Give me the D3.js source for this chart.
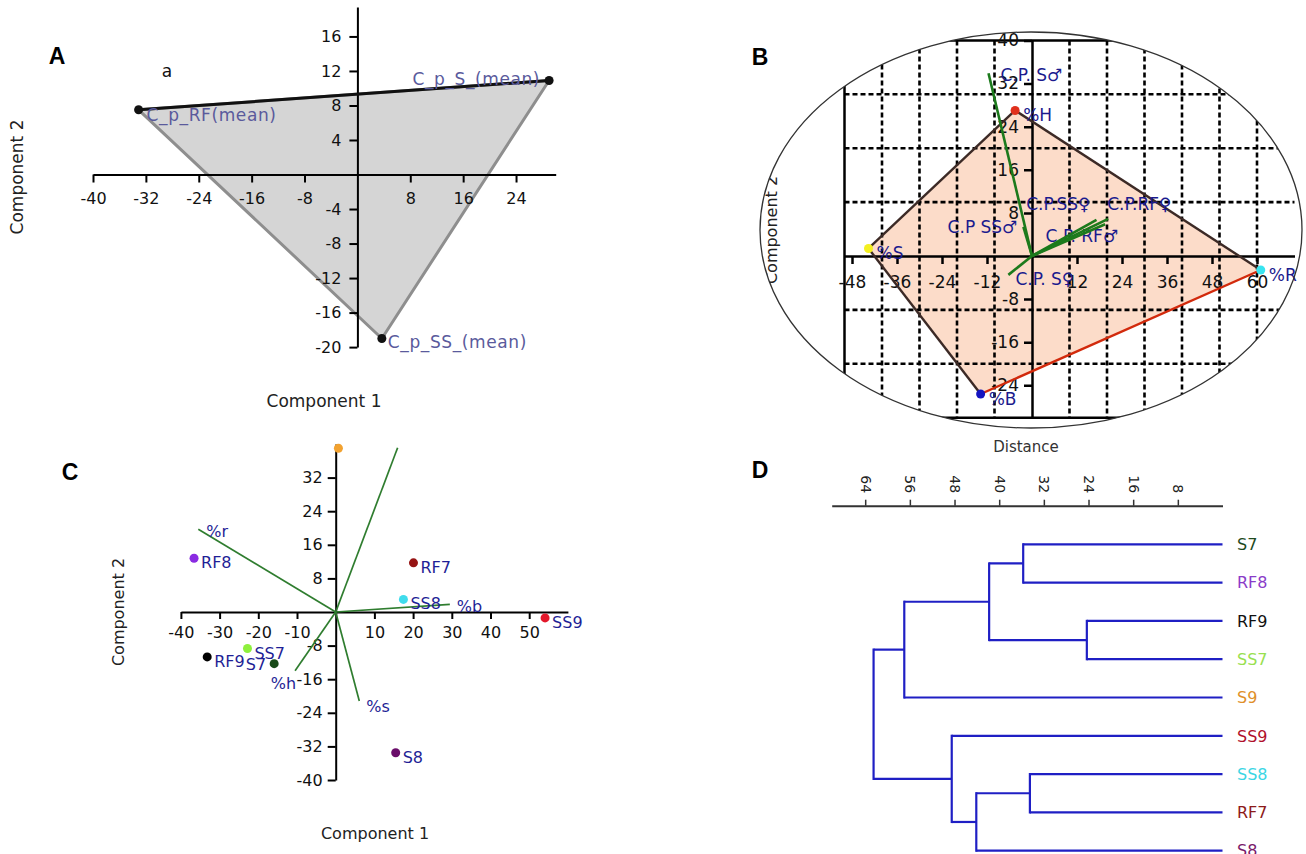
<!DOCTYPE html>
<html>
<head>
<meta charset="utf-8">
<script src="https://cdn.jsdelivr.net/npm/d3@7"></script>
<style>
  body { margin: 0; background: #fff; }
  svg text { font-family: "DejaVu Sans", Verdana, sans-serif; }
</style>
</head>
<body>
<svg id="fig" width="1306" height="854"></svg>
<script>
// ---------- Panel A: PCA of group means ----------
const groupNames = ["C_p_RF(mean)", "C_p_S_(mean)", "C_p_SS_(mean)"];
const groupC1 = [-33.1, 29.0, 3.7];
const groupC2 = [7.5, 10.9, -19.0];
const ticksAx = [-40, -32, -24, -16, -8, 8, 16, 24];
const ticksAy = [16, 12, 8, 4, -4, -8, -12, -16, -20];

// ---------- Panel B: variables hull + loadings ----------
const varNamesB = ["%H", "%R", "%B", "%S"];          // hull order
const varB1 = [-4.5, 61.0, -13.7, -43.6];
const varB2 = [27.0, -2.6, -25.6, 1.4];
const vecNamesB = ["C.P. S♂", "C.P. S♀", "C.P SS♂", "C.P.SS♀", "C.P.RF♀", "C.P. RF♂"];
const vecB1 = [-11.6, -6.3, -2.3, 17.2, 20.3, 19.5];
const vecB2 = [33.9, -3.5, 5.4, 6.7, 6.9, 5.9];
const ticksBx = [-48, -36, -24, -12, 12, 24, 36, 48, 60];
const ticksBy = [40, 32, 24, 16, 8, -8, -16, -24];
const gridBx = [-40, -30, -20, -10, 10, 20, 30, 40, 50, 60];
const gridBy = [-20, -10, 10, 20, 30];

// ---------- Panel C: sample scores + biplot vectors ----------
const sampleNames = ["S9", "RF8", "RF7", "SS8", "SS9", "SS7", "RF9", "S7", "S8"];
const sampleLabels = ["", "RF8", "RF7", "SS8", "SS9", "SS7", "RF9", "S7", "S8"];
const sampleC1 = [0.7, -36.6, 20.1, 17.5, 54.1, -22.8, -33.2, -15.9, 15.5];
const sampleC2 = [39.0, 12.8, 11.7, 3.0, -1.4, -8.7, -10.7, -12.3, -33.5];
const vecNamesC = ["%r", "", "%b", "%h", "%s"];
const vecC1 = [-35.5, 16.0, 29.5, -10.5, 6.1];
const vecC2 = [19.7, 39.1, 1.8, -14.0, -21.2];
const ticksCx = [-40, -30, -20, -10, 10, 20, 30, 40, 50];
const ticksCy = [32, 24, 16, 8, -8, -16, -24, -32, -40];

// ---------- Panel D: cluster dendrogram ----------
const leafNames = ["S7", "RF8", "RF9", "SS7", "S9", "SS9", "SS8", "RF7", "S8"];
// merge k creates cluster id leafNames.length + k
const mergeLeft   = [0, 2, 9, 11, 6, 13, 5, 12];
const mergeRight  = [1, 3, 10, 4, 7, 8, 14, 15];
const mergeHeight = [35.7, 24.3, 41.8, 57.0, 34.5, 44.1, 48.5, 62.5];
const ticksD = [64, 56, 48, 40, 32, 24, 16, 8];

// ---------- styles ----------
const sampleColor = {
  S9: "#f2a230", RF8: "#8a2be2", RF7: "#961414", SS8: "#3fdcec", SS9: "#e3182b",
  SS7: "#8ef03c", RF9: "#000000", S7: "#184a18", S8: "#6a0d6a"
};
const leafColor = {
  S7: "#1e4a1e", RF8: "#8a3cc8", RF9: "#111111", SS7: "#98e050", S9: "#e0902a",
  SS9: "#b0102c", SS8: "#3cd6e4", RF7: "#8c1a1a", S8: "#7a1a6a"
};
const varColorB = { "%H": "#e0301c", "%R": "#38e4f0", "%B": "#1414c0", "%S": "#f4f020" };

const svg = d3.select("#fig");
svg.append("rect").attr("width", 1306).attr("height", 854).attr("fill", "#fff");

const num = d => String(d);
function styleAxis(g, size, color, width) {
  g.attr("font-family", null).attr("font-size", null);
  g.selectAll("text").style("font-size", size + "px").attr("fill", color);
  g.select(".domain").attr("stroke", "#000").attr("stroke-width", width);
  g.selectAll(".tick line").attr("stroke", "#000").attr("stroke-width", width);
}
function panelLetter(t, x, y) {
  svg.append("text").attr("x", x).attr("y", y).attr("text-anchor", "middle")
    .style("font-family", "'Liberation Sans', Arial, sans-serif")
    .style("font-weight", "bold").style("font-size", "23px").attr("fill", "#000").text(t);
}
function vTitle(g, t, x, y, size) {
  g.append("text").attr("transform", `translate(${x},${y}) rotate(-90)`)
    .attr("text-anchor", "middle").attr("dy", "0.35em")
    .style("font-size", size + "px").attr("fill", "#222").text(t);
}

// ================= Panel A =================
{
  const xA = d3.scaleLinear().domain([-40, 30]).range([93, 555.7]);
  const yA = d3.scaleLinear().domain([-20, 19.4]).range([347.1, 7.1]);
  const g = svg.append("g");
  const pts = groupNames.map((n, i) => ({ name: n, x: xA(groupC1[i]), y: yA(groupC2[i]) }));

  g.append("polygon")
    .attr("points", pts.map(p => p.x + "," + p.y).join(" "))
    .attr("fill", "#d5d5d5").attr("stroke", "#8e8e8e").attr("stroke-width", 3)
    .attr("stroke-linejoin", "round");

  g.append("g").attr("transform", `translate(0,${yA(0)})`)
    .call(d3.axisBottom(xA).tickValues(ticksAx).tickFormat(num).tickSize(8).tickPadding(10).tickSizeOuter(0))
    .call(styleAxis, 16, "#111", 2);
  g.append("g").attr("transform", `translate(${xA(0)},0)`)
    .call(d3.axisLeft(yA).tickValues(ticksAy).tickFormat(num).tickSize(8).tickPadding(8).tickSizeOuter(0))
    .call(styleAxis, 16, "#111", 2);

  g.append("line").attr("x1", pts[0].x).attr("y1", pts[0].y).attr("x2", pts[1].x).attr("y2", pts[1].y)
    .attr("stroke", "#111").attr("stroke-width", 3);

  g.selectAll("circle.pt").data(pts).join("circle").attr("class", "pt")
    .attr("cx", d => d.x).attr("cy", d => d.y).attr("r", 4.5).attr("fill", "#111");

  const placeA = { "C_p_RF(mean)": [8, 11, "start"], "C_p_S_(mean)": [-9, 5, "end"], "C_p_SS_(mean)": [6, 10, "start"] };
  g.selectAll("text.lab").data(pts).join("text").attr("class", "lab")
    .attr("x", d => d.x + placeA[d.name][0]).attr("y", d => d.y + placeA[d.name][1])
    .attr("text-anchor", d => placeA[d.name][2])
    .style("font-size", "17px").style("letter-spacing", "0.6px").attr("fill", "#5a5a9c").text(d => d.name);

  g.append("text").attr("x", 167).attr("y", 77).attr("text-anchor", "middle")
    .style("font-size", "17px").attr("fill", "#111").text("a");
  g.append("text").attr("x", 324).attr("y", 407).attr("text-anchor", "middle")
    .style("font-size", "17px").attr("fill", "#222").text("Component 1");
  vTitle(g, "Component 2", 17, 177, 17);
  panelLetter("A", 57, 64);
}

// ================= Panel B =================
{
  const xB = d3.scaleLinear().domain([-50, 70]).range([844.5, 1294.5]);
  const yB = d3.scaleLinear().domain([-30, 40]).range([417.7, 40.4]);
  const ell = { cx: 1031, cy: 230, rx: 271, ry: 198 };

  svg.append("clipPath").attr("id", "ellipseClip").append("ellipse")
    .attr("cx", ell.cx).attr("cy", ell.cy).attr("rx", ell.rx).attr("ry", ell.ry);

  const g = svg.append("g").attr("clip-path", "url(#ellipseClip)");
  const hull = varNamesB.map((n, i) => ({ name: n, x: xB(varB1[i]), y: yB(varB2[i]) }));

  g.append("polygon").attr("points", hull.map(p => p.x + "," + p.y).join(" "))
    .attr("fill", "#fcdcc9").attr("stroke", "none");

  // dashed grid
  g.selectAll("line.gx").data(gridBx).join("line").attr("class", "gx")
    .attr("x1", d => xB(d)).attr("x2", d => xB(d)).attr("y1", yB(40)).attr("y2", yB(-30))
    .attr("stroke", "#000").attr("stroke-width", 2.6).attr("stroke-dasharray", "5,3");
  g.selectAll("line.gy").data(gridBy).join("line").attr("class", "gy")
    .attr("y1", d => yB(d)).attr("y2", d => yB(d)).attr("x1", xB(-50)).attr("x2", xB(70))
    .attr("stroke", "#000").attr("stroke-width", 2.6).attr("stroke-dasharray", "5,3");
  // plot frame: left, top and bottom sides
  g.append("path")
    .attr("d", `M${xB(70)},${yB(40)}H${xB(-50)}V${yB(-30)}H${xB(70)}`)
    .attr("fill", "none").attr("stroke", "#000").attr("stroke-width", 2.5);

  g.append("g").attr("transform", `translate(0,${yB(0)})`)
    .call(d3.axisBottom(xB).tickValues(ticksBx).tickFormat(num).tickSize(8).tickPadding(12).tickSizeOuter(0))
    .call(styleAxis, 17, "#111", 2.5);
  g.append("g").attr("transform", `translate(${xB(0)},0)`)
    .call(d3.axisLeft(yB).tickValues(ticksBy).tickFormat(num).tickSize(8).tickPadding(5).tickSizeOuter(0))
    .call(styleAxis, 17, "#111", 2.5);

  // hull edges
  const edgeColor = ["#3c2a26", "#d22a0c", "#3c2a26", "#3c2a26"];
  hull.forEach((p, i) => {
    const q = hull[(i + 1) % hull.length];
    g.append("line").attr("x1", p.x).attr("y1", p.y).attr("x2", q.x).attr("y2", q.y)
      .attr("stroke", edgeColor[i]).attr("stroke-width", 2.4);
  });

  // loading labels, then vectors
  const placeB = {
    "C.P. S♂": [12, 8, "start"], "C.P. S♀": [7, 10, "start"], "C.P SS♂": [-6, 6, "end"],
    "C.P.SS♀": [-6, -10, "end"], "C.P.RF♀": [-1, -9, "start"], "C.P. RF♂": [13, 18, "end"]
  };
  const vecs = vecNamesB.map((n, i) => ({ name: n, x: xB(vecB1[i]), y: yB(vecB2[i]) }));
  g.selectAll("text.vlab").data(vecs).join("text").attr("class", "vlab")
    .attr("x", d => d.x + placeB[d.name][0]).attr("y", d => d.y + placeB[d.name][1])
    .attr("text-anchor", d => placeB[d.name][2])
    .style("font-size", "17px").attr("fill", "#1b1b8e").text(d => d.name);
  g.selectAll("line.vec").data(vecs).join("line").attr("class", "vec")
    .attr("x1", xB(0)).attr("y1", yB(0)).attr("x2", d => d.x).attr("y2", d => d.y)
    .attr("stroke", "#1c7a1c").attr("stroke-width", 2.6);

  vTitle(g, "Component 2", 771, 230, 16);

  // variable points
  svg.selectAll("circle.vb").data(hull).join("circle").attr("class", "vb")
    .attr("cx", d => d.x).attr("cy", d => d.y).attr("r", 4.5).attr("fill", d => varColorB[d.name]);
  svg.selectAll("text.vb").data(hull).join("text").attr("class", "vb")
    .attr("x", d => d.x + 8).attr("y", d => d.y + 11)
    .style("font-size", "17px").attr("fill", "#1b1b8e").text(d => d.name);

  svg.append("ellipse").attr("cx", ell.cx).attr("cy", ell.cy).attr("rx", ell.rx).attr("ry", ell.ry)
    .attr("fill", "none").attr("stroke", "#333").attr("stroke-width", 1.3);
  panelLetter("B", 760, 65);
}

// ================= Panel C =================
{
  const xC = d3.scaleLinear().domain([-40, 60]).range([180.9, 567.9]);
  const yC = d3.scaleLinear().domain([-40, 40]).range([780, 444]);
  const g = svg.append("g");

  g.append("g").attr("transform", `translate(0,${yC(0)})`)
    .call(d3.axisBottom(xC).tickValues(ticksCx).tickFormat(num).tickSize(7).tickPadding(8).tickSizeOuter(0))
    .call(styleAxis, 16, "#111", 2);
  g.append("g").attr("transform", `translate(${xC(0)},0)`)
    .call(d3.axisLeft(yC).tickValues(ticksCy).tickFormat(num).tickSize(8).tickPadding(5).tickSizeOuter(0))
    .call(styleAxis, 16, "#111", 2);

  const vecs = vecNamesC.map((n, i) => ({ name: n, x: xC(vecC1[i]), y: yC(vecC2[i]) }));
  g.selectAll("line.vec").data(vecs).join("line").attr("class", "vec")
    .attr("x1", xC(0)).attr("y1", yC(0)).attr("x2", d => d.x).attr("y2", d => d.y)
    .attr("stroke", "#2f7d2f").attr("stroke-width", 1.7);
  const placeVC = { "%r": [8, 8, "start"], "%b": [7, 8, "start"], "%h": [1, 18, "end"], "%s": [7, 11, "start"] };
  g.selectAll("text.vlab").data(vecs.filter(d => d.name)).join("text").attr("class", "vlab")
    .attr("x", d => d.x + placeVC[d.name][0]).attr("y", d => d.y + placeVC[d.name][1])
    .attr("text-anchor", d => placeVC[d.name][2])
    .style("font-size", "16px").attr("fill", "#1f1f96").text(d => d.name);

  const pts = sampleNames.map((n, i) => ({ name: n, label: sampleLabels[i], x: xC(sampleC1[i]), y: yC(sampleC2[i]) }));
  g.selectAll("circle.pt").data(pts).join("circle").attr("class", "pt")
    .attr("cx", d => d.x).attr("cy", d => d.y).attr("r", 4.5).attr("fill", d => sampleColor[d.name]);
  g.selectAll("text.lab").data(pts.filter(d => d.label)).join("text").attr("class", "lab")
    .attr("x", d => d.name === "S7" ? d.x - 8 : d.x + 7)
    .attr("y", d => d.name === "S7" ? d.y + 6 : d.y + 10)
    .attr("text-anchor", d => d.name === "S7" ? "end" : "start")
    .style("font-size", "16px").attr("fill", "#1f1f96").text(d => d.label);

  g.append("text").attr("x", 375).attr("y", 839).attr("text-anchor", "middle")
    .style("font-size", "16px").attr("fill", "#222").text("Component 1");
  vTitle(g, "Component 2", 118, 612, 16);
  panelLetter("C", 70, 480);
}

// ================= Panel D =================
{
  const xD = d3.scaleLinear().domain([70, 0]).range([831.7, 1222.5]);
  const yD = d3.scalePoint().domain(leafNames).range([544.3, 850.7]);
  const g = svg.append("g");

  const axisG = g.append("g").attr("transform", "translate(0,505.7)")
    .call(d3.axisTop(xD).tickValues(ticksD).tickFormat(num).tickSize(6).tickSizeOuter(0));
  axisG.attr("font-family", null).attr("font-size", null);
  axisG.select(".domain").attr("stroke", "#333").attr("stroke-width", 2);
  axisG.selectAll(".tick line").attr("stroke", "#333").attr("stroke-width", 1.5);
  axisG.selectAll(".tick text")
    .attr("transform", "rotate(90)").attr("x", -12.5).attr("y", 0).attr("dy", "0.35em")
    .attr("text-anchor", "end").style("font-size", "14px").attr("fill", "#222");

  g.append("text").attr("x", 1026).attr("y", 452).attr("text-anchor", "middle")
    .style("font-size", "15px").attr("fill", "#333").text("Distance");

  // node positions: leaves at distance 0, clusters at merge height
  const nodes = leafNames.map(n => ({ y: yD(n), h: 0 }));
  mergeLeft.forEach((a, k) => {
    const A = nodes[a], B = nodes[mergeRight[k]], h = mergeHeight[k];
    [A, B].forEach(c => {
      g.append("line").attr("x1", xD(h)).attr("x2", xD(c.h)).attr("y1", c.y).attr("y2", c.y)
        .attr("stroke", "#1f1fc4").attr("stroke-width", 2.2);
    });
    g.append("line").attr("x1", xD(h)).attr("x2", xD(h)).attr("y1", A.y - 1.1).attr("y2", B.y + 1.1)
      .attr("stroke", "#1f1fc4").attr("stroke-width", 2.2);
    nodes.push({ y: (A.y + B.y) / 2, h: h });
  });

  g.selectAll("text.leaf").data(leafNames).join("text").attr("class", "leaf")
    .attr("x", 1237).attr("y", d => yD(d)).attr("dy", "0.36em")
    .style("font-size", "16px").attr("fill", d => leafColor[d]).text(d => d);
  panelLetter("D", 760, 478);
}
</script>
</body>
</html>
